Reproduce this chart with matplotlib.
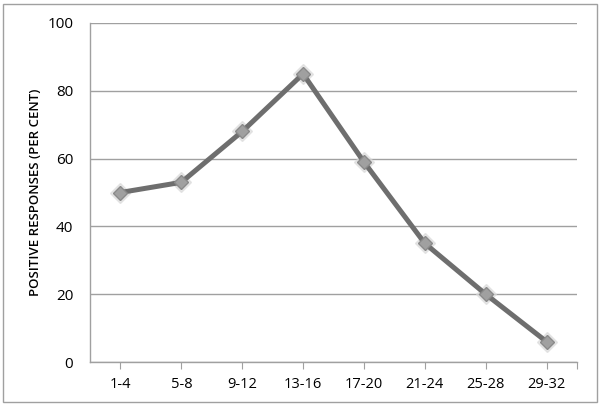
import matplotlib
matplotlib.use("Agg")
import matplotlib.pyplot as plt
from matplotlib.patches import Rectangle

# age groups (categories) and positive responses
categories = ['1-4', '5-8', '9-12', '13-16', '17-20', '21-24', '25-28', '29-32']
responses = [50, 53, 68, 85, 59, 35, 20, 6]
y_ticks = [0, 20, 40, 60, 80, 100]

plt.rcParams['font.family'] = ['Open Sans', 'DejaVu Sans']

fig = plt.figure(figsize=(6, 4.05), dpi=100)
ax = fig.add_axes([90 / 600, 43 / 405, 487 / 600, 339 / 405])

x = list(range(len(categories)))
# soft shadow under markers
ax.plot(x, responses, linestyle='none', marker='D', markersize=10,
        color='#d8d8d8', alpha=0.6, zorder=2)
ax.plot(x, responses, color='#6e6e6e', linewidth=3.6, zorder=3,
        marker='D', markersize=7.5, markerfacecolor='#a0a0a0',
        markeredgecolor='#8a8a8a', markeredgewidth=1)

ax.set_xlim(-0.5, len(categories) - 0.5)
ax.set_ylim(0, 100)
ax.set_yticks(y_ticks)
ax.set_xticks(x + [len(categories) - 0.5])
ax.set_xticklabels(categories + [''])
ax.yaxis.grid(True, color='#a0a0a0', linewidth=1)
ax.set_axisbelow(True)

for side in ['top', 'right']:
    ax.spines[side].set_visible(False)
for side in ['left', 'bottom']:
    ax.spines[side].set_color('#a0a0a0')
    ax.spines[side].set_linewidth(1)

ax.tick_params(axis='x', length=5, color='#a0a0a0', labelsize=10.5, pad=6)
ax.tick_params(axis='y', length=0, labelsize=11, pad=12)
ax.set_ylabel('POSITIVE RESPONSES (PER CENT)', fontsize=9.5,
              fontweight='semibold', labelpad=4)

# outer frame of the chart area
fig.patches.append(Rectangle((3 / 600, 3 / 405), 594 / 600, 398 / 405,
                             transform=fig.transFigure, fill=False,
                             edgecolor='#a0a0a0', linewidth=1))

fig.savefig("out.png", dpi=100)
